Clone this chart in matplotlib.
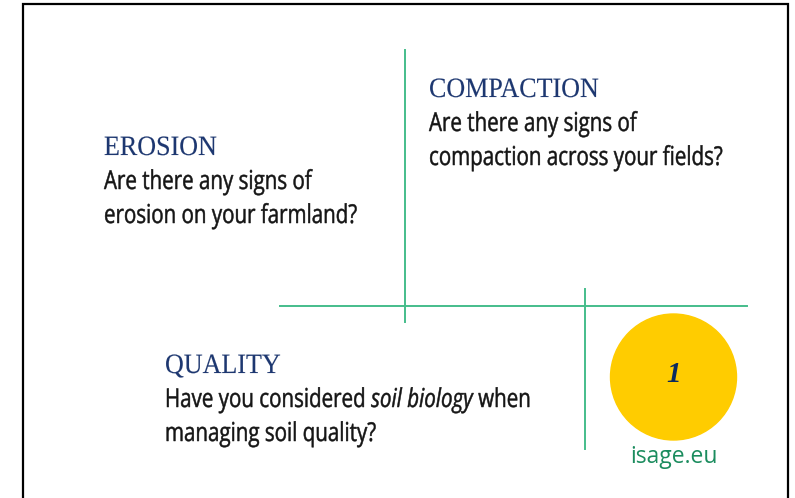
import matplotlib.pyplot as plt
from matplotlib.patches import Circle, PathPatch
from matplotlib.textpath import TextPath
from matplotlib.font_manager import FontProperties
from matplotlib.transforms import Affine2D

# content of the slide
titles = ["EROSION", "COMPACTION", "QUALITY"]
erosion_lines = ["Are there any signs of", "erosion on your farmland?"]
compaction_lines = ["Are there any signs of", "compaction across your fields?"]
quality_line1 = [("Have you considered", "normal"), ("soil biology", "italic"), ("when", "normal")]
quality_line2 = "managing soil quality?"
badge_number = "1"
site = "isage.eu"

NAVY = "#1d3770"
GREEN_LINE = "#45bd8b"
GREEN_TEXT = "#1b8c5e"
YELLOW = "#ffcc00"
BODY_EM = 26      # px
SQUEEZE = 0.79    # condensed look of the body font
TITLE_EM = 28
TITLE_SQUEEZE = 0.93

fig = plt.figure(figsize=(7.95, 4.98), dpi=100)
ax = fig.add_axes([0, 0, 1, 1])
ax.set_xlim(0, 795)
ax.set_ylim(498, 0)
ax.axis("off")

# frame (no bottom edge visible)
ax.plot([23, 23, 788, 788], [500, 4, 4, 500], color="black", lw=1.6, solid_joinstyle="miter")

# green divider lines
ax.plot([405, 405], [50, 322], color=GREEN_LINE, lw=1.4)
ax.plot([280, 747], [306, 306], color=GREEN_LINE, lw=1.4)
ax.plot([585, 585], [289, 449], color=GREEN_LINE, lw=1.4)


def text_path(s, family, style="normal"):
    size = BODY_EM if family == "Open Sans" else TITLE_EM
    fp = FontProperties(family=family, style=style)
    return TextPath((0, 0), s, size=size, prop=fp)


def draw_path(x, y, path, sx, color, edge):
    tr = Affine2D().scale(sx, -1).translate(x, y)
    ax.add_patch(PathPatch(tr.transform_path(path), fc=color, ec=color, lw=edge))
    return path.get_extents().x1 * sx


def body(x, y, s, style="normal"):
    # condensed sans text, y is the baseline
    return draw_path(x, y, text_path(s, "Open Sans", style), SQUEEZE, "#151515", 0.35)


def block(x, y, title, lines):
    draw_path(x, y, text_path(title, "Liberation Serif"), TITLE_SQUEEZE, NAVY, 0.1)
    for i, line in enumerate(lines):
        body(x, y + 34 * (i + 1), line)


block(104, 155, titles[0], erosion_lines)
block(429, 97, titles[1], compaction_lines)
block(165, 373, titles[2], [])

# quality question with an italic part
space = (text_path("x x", "Open Sans").get_extents().x1
         - text_path("xx", "Open Sans").get_extents().x1) * SQUEEZE
x = 165
for i, (seg, style) in enumerate(quality_line1):
    x += body(x, 407, seg, style)
    nxt = quality_line1[i + 1][1] if i + 1 < len(quality_line1) else "normal"
    x += space * (1.35 if nxt == "italic" else 0.85)
body(165, 441, quality_line2)

# yellow badge
ax.add_patch(Circle((673.5, 377), 63, color=YELLOW, zorder=3))
ax.text(673.5, 374, badge_number, family=["Liberation Serif", "DejaVu Serif"], fontsize=21,
        fontstyle="italic", fontweight="bold", color="#0b2a5e",
        ha="center", va="center", zorder=4)
ax.text(673.5, 457, site, family=["Open Sans", "DejaVu Sans"], fontsize=16.5,
        color=GREEN_TEXT, ha="center", va="center")

fig.savefig("out.png", dpi=100)
